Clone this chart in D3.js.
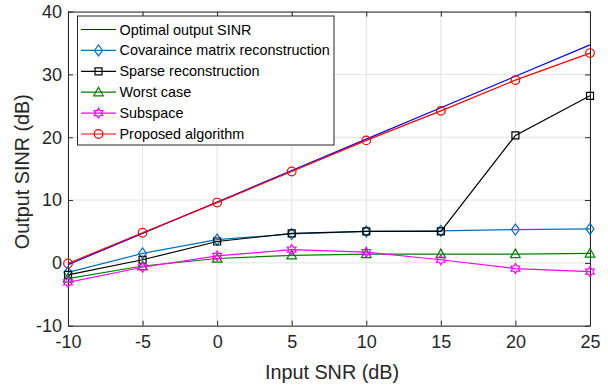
<!DOCTYPE html>
<html><head><meta charset="utf-8">
<script src="https://cdn.jsdelivr.net/npm/d3@7"></script>
<style>body{margin:0;background:#fff}svg{display:block;font-family:"Liberation Sans",Arial,sans-serif}</style>
</head><body><svg id="c" width="608" height="385"></svg>
<script>
const snr = [-10, -5, 0, 5, 10, 15, 20, 25];
const optimal = [-0.3, 4.7, 9.7, 14.7, 19.7, 24.7, 29.7, 34.7];
const covariance = [-1.5, 1.5, 3.7, 4.6, 5.0, 5.1, 5.3, 5.4];
const sparse = [-1.9, 0.5, 3.4, 4.7, 5.0, 5.0, 20.3, 26.6];
const worst = [-2.5, -0.5, 0.7, 1.2, 1.4, 1.4, 1.4, 1.5];
const subspace = [-3.1, -0.7, 1.1, 2.1, 1.7, 0.5, -0.9, -1.4];
const proposed = [-0.1, 4.8, 9.6, 14.55, 19.5, 24.2, 29.1, 33.4];
const xTicks = [-10, -5, 0, 5, 10, 15, 20, 25];
const yTicks = [-10, 0, 10, 20, 30, 40];
const seriesNames = ["Optimal output SINR", "Covaraince matrix reconstruction", "Sparse reconstruction", "Worst case", "Subspace", "Proposed algorithm"];

const series = [
  {name: seriesNames[0], values: optimal, color: "#0000ff", marker: null},
  {name: seriesNames[1], values: covariance, color: "#0072bd", marker: "diamond"},
  {name: seriesNames[2], values: sparse, color: "#000000", marker: "square"},
  {name: seriesNames[3], values: worst, color: "#008000", marker: "triangle"},
  {name: seriesNames[4], values: subspace, color: "#ff00ff", marker: "hexagram"},
  {name: seriesNames[5], values: proposed, color: "#ff0000", marker: "circle"}
];

const L = 68, R = 590, T = 11.6, B = 325.7;
const svg = d3.select("#c");
const x = d3.scaleLinear().domain([-10, 25]).range([L, R]);
const y = d3.scaleLinear().domain([-10, 40]).range([B, T]);
const axisColor = "#262626";
const fmt = d => String(d);

// grid
const g = svg.append("g");
g.selectAll(".gx").data(xTicks).join("line")
  .attr("x1", d => x(d)).attr("x2", d => x(d)).attr("y1", T).attr("y2", B)
  .attr("stroke", "#e3e3e3").attr("stroke-width", 1);
g.selectAll(".gy").data(yTicks).join("line")
  .attr("x1", L).attr("x2", R).attr("y1", d => y(d)).attr("y2", d => y(d))
  .attr("stroke", "#e3e3e3").attr("stroke-width", 1);

// axes
function styleAxis(sel) {
  sel.select(".domain").attr("stroke", axisColor).attr("stroke-width", 1);
  sel.selectAll(".tick line").attr("stroke", axisColor);
  sel.selectAll(".tick text").attr("fill", axisColor).attr("font-size", 18).attr("font-family", "Liberation Sans, Arial, sans-serif");
}
const xb = svg.append("g").attr("transform", `translate(0,${B})`)
  .call(d3.axisBottom(x).tickValues(xTicks).tickSize(-5).tickSizeOuter(0).tickPadding(10).tickFormat(fmt));
styleAxis(xb);
const xt = svg.append("g").attr("transform", `translate(0,${T})`)
  .call(d3.axisTop(x).tickValues(xTicks).tickSize(-5).tickSizeOuter(0).tickFormat(""));
styleAxis(xt);
const yl = svg.append("g").attr("transform", `translate(${L},0)`)
  .call(d3.axisLeft(y).tickValues(yTicks).tickSize(-5).tickSizeOuter(0).tickPadding(6).tickFormat(fmt));
styleAxis(yl);
const yr = svg.append("g").attr("transform", `translate(${R},0)`)
  .call(d3.axisRight(y).tickValues(yTicks).tickSize(-5).tickSizeOuter(0).tickFormat(""));
styleAxis(yr);

// labels
svg.append("text").attr("x", (L + R) / 2 + 3).attr("y", 379).attr("text-anchor", "middle")
  .attr("font-size", 19.8).attr("fill", axisColor).text("Input SNR (dB)");
svg.append("text").attr("transform", `translate(29,${(T + B) / 2 + 3}) rotate(-90)`).attr("text-anchor", "middle")
  .attr("font-size", 19.8).attr("fill", axisColor).text("Output SINR (dB)");

// markers
function markerPath(type) {
  if (type === "diamond") return "M0,-5.5L4,0L0,5.5L-4,0Z";
  if (type === "square") return "M-3.5,-3.5H3.5V3.5H-3.5Z";
  if (type === "triangle") return "M0,-5L4.8,3.6H-4.8Z";
  if (type === "circle") return d3.symbol(d3.symbolCircle, Math.PI * 4.3 * 4.3)();
  if (type === "hexagram") {
    const r = 5, pts = [];
    for (let k = 0; k < 12; k++) {
      const a = -Math.PI / 2 + k * Math.PI / 6;
      const rr = k % 2 === 0 ? r : r * 0.58;
      pts.push([rr * Math.cos(a), rr * Math.sin(a)]);
    }
    return "M" + pts.map(p => p.join(",")).join("L") + "Z";
  }
  return "";
}

const line = d3.line().x((d, i) => x(snr[i])).y(d => y(d));
series.forEach(s => {
  const sg = svg.append("g");
  sg.append("path").datum(s.values).attr("d", line).attr("fill", "none")
    .attr("stroke", s.color).attr("stroke-width", 1.2);
  if (s.marker) {
    sg.selectAll("path.m").data(s.values).join("path").attr("class", "m")
      .attr("transform", (d, i) => `translate(${x(snr[i])},${y(d)})`)
      .attr("d", markerPath(s.marker)).attr("fill", "none")
      .attr("stroke", s.color).attr("stroke-width", 1.2);
  }
});

// legend
const lg = svg.append("g");
lg.append("rect").attr("x", 77.5).attr("y", 16).attr("width", 256.5).attr("height", 129)
  .attr("fill", "#fff").attr("stroke", axisColor).attr("stroke-width", 1);
series.forEach((s, i) => {
  const cy = 29.5 + i * 20.9;
  lg.append("line").attr("x1", 81).attr("x2", 116).attr("y1", cy).attr("y2", cy)
    .attr("stroke", s.color).attr("stroke-width", 1.2);
  if (s.marker) {
    lg.append("path").attr("transform", `translate(98.5,${cy})`).attr("d", markerPath(s.marker))
      .attr("fill", "none").attr("stroke", s.color).attr("stroke-width", 1.2);
  }
  lg.append("text").attr("x", 119.5).attr("y", cy + 5).attr("font-size", 14.4)
    .attr("fill", "#000").text(s.name);
});
</script></body></html>
